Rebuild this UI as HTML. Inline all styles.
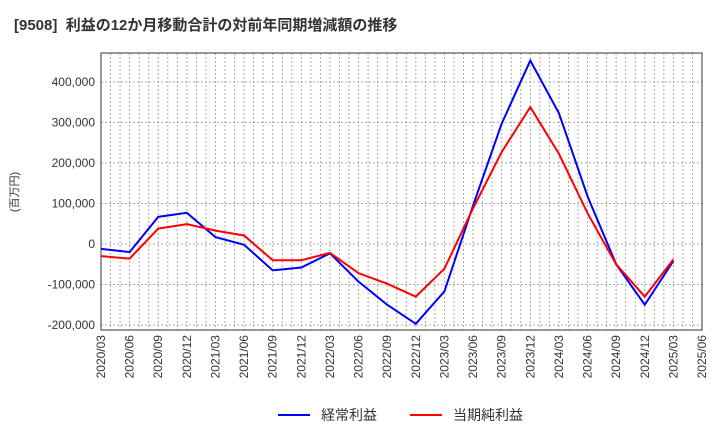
<!DOCTYPE html>
<html><head><meta charset="utf-8"><style>
body{margin:0;background:#fff;font-family:"Liberation Sans","Noto Sans CJK JP",sans-serif}
</style></head><body>
<svg id="c" width="720" height="440" xmlns="http://www.w3.org/2000/svg" font-family="Liberation Sans, Noto Sans CJK JP, sans-serif">
<text x="14" y="30" font-size="15" font-weight="bold" fill="#333">[9508]&#160;&#160;利益の12か月移動合計の対前年同期増減額の推移</text>
<text transform="translate(18,192) rotate(-90)" text-anchor="middle" font-size="11" fill="#333">(百万円)</text>
<g id="grid"></g><g id="axes"></g><g id="lines"></g>
<g>
<line x1="278" y1="415" x2="310" y2="415" stroke="#0000ff" stroke-width="2"/>
<text x="321" y="420" font-size="14" fill="#333">経常利益</text>
<line x1="410" y1="415" x2="442" y2="415" stroke="#ff0000" stroke-width="2"/>
<text x="453" y="420" font-size="14" fill="#333">当期純利益</text>
</g>
</svg>
<script>
const categories=["2020/03","2020/06","2020/09","2020/12","2021/03","2021/06","2021/09","2021/12","2022/03","2022/06","2022/09","2022/12","2023/03","2023/06","2023/09","2023/12","2024/03","2024/06","2024/09","2024/12","2025/03","2025/06"];
const ordinaryProfit=[-12000,-20000,67000,77000,17000,-2000,-65000,-58000,-23000,-93000,-150000,-197000,-117000,95000,297000,453000,323000,118000,-50000,-150000,-42000];
const netProfit=[-30000,-36000,38000,49000,33000,21000,-40000,-40000,-22000,-72000,-98000,-130000,-61000,88000,227000,338000,223000,76000,-50000,-130000,-38000];
const yTicks=[-200000,-100000,0,100000,200000,300000,400000];
const L=101,R=702,T=53,B=330;
const x=i=>L+i*(R-L)/21;
const y=v=>244-v*40.5/100000;
const NS="http://www.w3.org/2000/svg";
function mk(p,t,a){const e=document.createElementNS(NS,t);for(const k in a)e.setAttribute(k,a[k]);document.getElementById(p).appendChild(e);return e;}
for(let m=1;m<63;m++){const xx=L+m*(R-L)/63;const g=mk('grid','line',{x1:xx,x2:xx,y1:T,y2:B,stroke:'#aaa','stroke-width':1,'stroke-dasharray':'2,2'});

}
yTicks.forEach(v=>{const g=mk('grid','line',{x1:L,x2:R,y1:y(v),y2:y(v),stroke:'#aaa','stroke-width':1,'stroke-dasharray':'2,2'});


const t=mk('axes','text',{x:L-6,y:y(v)+4,'text-anchor':'end','font-size':12,fill:'#333'});t.textContent=v.toLocaleString('en-US');

});
const fr=mk('axes','rect',{x:L,y:T,width:R-L,height:B-T,fill:'none',stroke:'#333','stroke-width':1});


categories.forEach((c,i)=>{const t=mk('axes','text',{transform:`translate(${x(i)+4},${B+5}) rotate(-90)`,'text-anchor':'end','font-size':12,fill:'#333'});t.textContent=c;

});
function line(d,col,name){const p=mk('lines','polyline',{points:d.map((v,i)=>x(i)+','+y(v)).join(' '),fill:'none',stroke:col,'stroke-width':2});

}
line(ordinaryProfit,'#0000ff','ordinary-profit-line');
line(netProfit,'#ff0000','net-profit-line');
</script>
</body></html>
